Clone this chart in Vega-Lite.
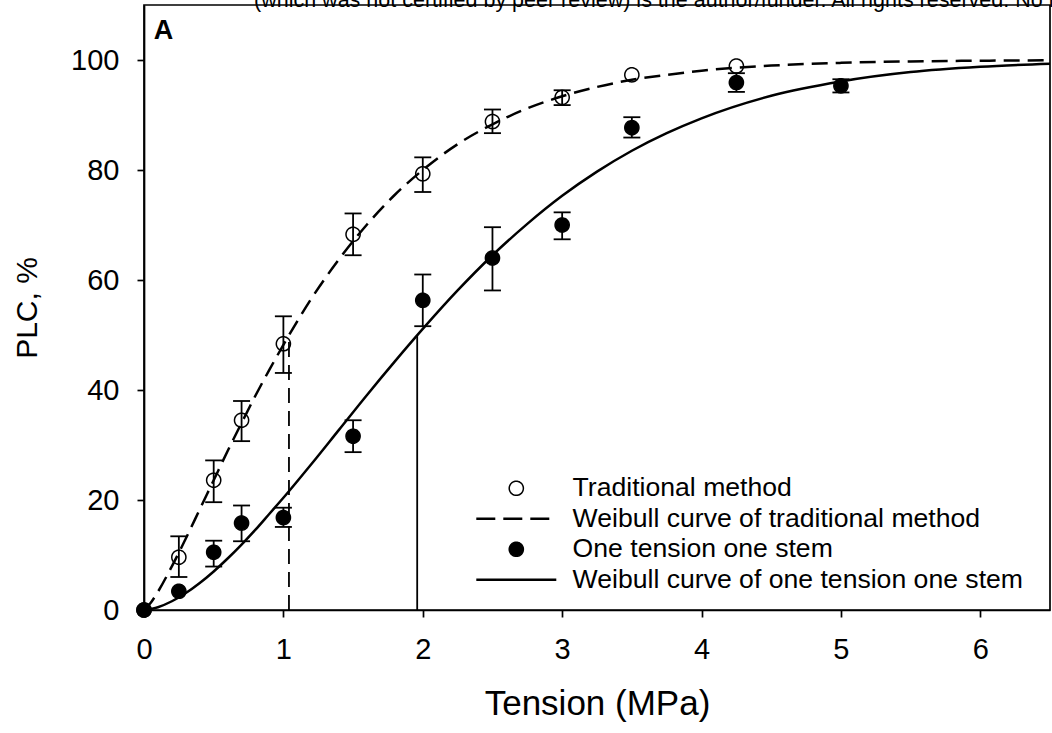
{
  "$schema": "https://vega.github.io/schema/vega-lite/v6.json",
  "width": 906,
  "height": 605,
  "autosize": "none",
  "padding": {"left": 144, "top": 5, "right": 2, "bottom": 123},
  "background": "white",
  "title": {
    "text": "(which was not certified by peer review) is the author/funder. All rights reserved. No reuse allowed without permission.",
    "anchor": "start",
    "frame": "group",
    "dx": 110,
    "offset": -6,
    "fontSize": 21.5,
    "font": "Liberation Sans",
    "fontWeight": "normal",
    "color": "black"
  },
  "config": {
    "view": {"stroke": "black", "strokeWidth": 1.7},
    "font": "Liberation Sans",
    "axis": {
      "grid": false,
      "domainColor": "black",
      "domainWidth": 1.7,
      "tickColor": "black",
      "tickWidth": 1.7,
      "tickSize": 7,
      "labelColor": "black",
      "titleColor": "black",
      "labelFont": "Liberation Sans",
      "titleFont": "Liberation Sans",
      "labelFontSize": 29,
      "labelFlush": false,
      "titleFontWeight": "normal"
    }
  },
  "datasets": {
    "points": [
      {"series": "Traditional method", "t": 0, "plc": 0},
      {"series": "Traditional method", "t": 0.25, "plc": 9.6, "lo": 6.0, "hi": 13.4},
      {"series": "Traditional method", "t": 0.5, "plc": 23.6, "lo": 19.6, "hi": 27.2},
      {"series": "Traditional method", "t": 0.7, "plc": 34.5, "lo": 30.7, "hi": 38.0},
      {"series": "Traditional method", "t": 1.0, "plc": 48.4, "lo": 43.1, "hi": 53.4},
      {"series": "Traditional method", "t": 1.5, "plc": 68.3, "lo": 64.5, "hi": 72.1},
      {"series": "Traditional method", "t": 2.0, "plc": 79.3, "lo": 76.0, "hi": 82.3},
      {"series": "Traditional method", "t": 2.5, "plc": 88.8, "lo": 86.7, "hi": 91.0},
      {"series": "Traditional method", "t": 3.0, "plc": 93.2, "lo": 91.8, "hi": 94.5},
      {"series": "Traditional method", "t": 3.5, "plc": 97.3},
      {"series": "Traditional method", "t": 4.25, "plc": 98.9},
      {"series": "One tension one stem", "t": 0, "plc": 0},
      {"series": "One tension one stem", "t": 0.25, "plc": 3.4},
      {"series": "One tension one stem", "t": 0.5, "plc": 10.5, "lo": 7.9, "hi": 12.6},
      {"series": "One tension one stem", "t": 0.7, "plc": 15.8, "lo": 12.5, "hi": 19.0},
      {"series": "One tension one stem", "t": 1.0, "plc": 16.8, "lo": 15.1, "hi": 18.6},
      {"series": "One tension one stem", "t": 1.5, "plc": 31.6, "lo": 28.7, "hi": 34.5},
      {"series": "One tension one stem", "t": 2.0, "plc": 56.3, "lo": 51.6, "hi": 61.0},
      {"series": "One tension one stem", "t": 2.5, "plc": 64.0, "lo": 58.1, "hi": 69.6},
      {"series": "One tension one stem", "t": 3.0, "plc": 70.0, "lo": 67.4, "hi": 72.3},
      {"series": "One tension one stem", "t": 3.5, "plc": 87.7, "lo": 85.9, "hi": 89.6},
      {"series": "One tension one stem", "t": 4.25, "plc": 95.9, "lo": 94.2, "hi": 97.6},
      {"series": "One tension one stem", "t": 5.0, "plc": 95.3, "lo": 94.1, "hi": 96.5}
    ],
    "curveTrad": [
      {"t": 0, "plc": 0}, {"t": 0.05, "plc": 1.37}, {"t": 0.1, "plc": 3.32}, {"t": 0.2, "plc": 7.94},
      {"t": 0.3, "plc": 13.0}, {"t": 0.4, "plc": 18.3}, {"t": 0.5, "plc": 23.6}, {"t": 0.6, "plc": 28.9},
      {"t": 0.7, "plc": 34.0}, {"t": 0.8, "plc": 39.0}, {"t": 0.9, "plc": 43.7}, {"t": 1.0, "plc": 48.2},
      {"t": 1.2, "plc": 56.6}, {"t": 1.4, "plc": 63.8}, {"t": 1.6, "plc": 70.1}, {"t": 1.8, "plc": 75.5},
      {"t": 2.0, "plc": 80.0}, {"t": 2.25, "plc": 84.7}, {"t": 2.5, "plc": 88.3}, {"t": 2.75, "plc": 91.2},
      {"t": 3.0, "plc": 93.4}, {"t": 3.25, "plc": 95.1}, {"t": 3.5, "plc": 96.4}, {"t": 3.75, "plc": 97.3},
      {"t": 4.0, "plc": 98.05}, {"t": 4.5, "plc": 98.98}, {"t": 5.0, "plc": 99.48}, {"t": 5.5, "plc": 99.74},
      {"t": 6.0, "plc": 99.87}, {"t": 6.5, "plc": 99.94}
    ],
    "curveOne": [
      {"t": 0, "plc": 0}, {"t": 0.1, "plc": 0.51}, {"t": 0.2, "plc": 1.59}, {"t": 0.3, "plc": 3.08},
      {"t": 0.4, "plc": 4.91}, {"t": 0.5, "plc": 7.01}, {"t": 0.6, "plc": 9.36}, {"t": 0.7, "plc": 11.9},
      {"t": 0.8, "plc": 14.6}, {"t": 0.9, "plc": 17.5}, {"t": 1.0, "plc": 20.4}, {"t": 1.2, "plc": 26.5},
      {"t": 1.4, "plc": 32.8}, {"t": 1.6, "plc": 39.1}, {"t": 1.8, "plc": 45.2}, {"t": 2.0, "plc": 51.1},
      {"t": 2.25, "plc": 58.1}, {"t": 2.5, "plc": 64.5}, {"t": 2.75, "plc": 70.2}, {"t": 3.0, "plc": 75.3},
      {"t": 3.25, "plc": 79.7}, {"t": 3.5, "plc": 83.5}, {"t": 3.75, "plc": 86.7}, {"t": 4.0, "plc": 89.4},
      {"t": 4.5, "plc": 93.5}, {"t": 5.0, "plc": 96.1}, {"t": 5.5, "plc": 97.8}, {"t": 6.0, "plc": 98.76},
      {"t": 6.5, "plc": 99.33}
    ],
    "p50": [
      {"method": "traditional", "t": 1.04, "lo": 0, "hi": 50},
      {"method": "one", "t": 1.96, "lo": 0, "hi": 50}
    ]
  },
  "layer": [
    {
      "data": {"name": "curveTrad"},
      "mark": {"type": "line", "color": "black", "strokeWidth": 2.5, "strokeDash": [16, 8], "interpolate": "monotone", "clip": true},
      "encoding": {
        "x": {"field": "t", "type": "quantitative", "scale": {"domain": [0, 6.5], "nice": false, "zero": false},
              "axis": {"values": [0, 1, 2, 3, 4, 5, 6], "format": "d", "title": "Tension (MPa)", "titleFontSize": 35, "labelPadding": 18, "titlePadding": 22}},
        "y": {"field": "plc", "type": "quantitative", "scale": {"domain": [0, 110], "nice": false},
              "axis": {"values": [0, 20, 40, 60, 80, 100], "format": "d", "title": "PLC, %", "titleFontSize": 30, "labelPadding": 18, "titlePadding": 28}}
      }
    },
    {
      "data": {"name": "curveOne"},
      "mark": {"type": "line", "color": "black", "strokeWidth": 2.5, "interpolate": "monotone", "clip": true},
      "encoding": {
        "x": {"field": "t", "type": "quantitative"},
        "y": {"field": "plc", "type": "quantitative"}
      }
    },
    {
      "data": {"name": "p50"},
      "transform": [{"filter": "datum.method === 'traditional'"}],
      "mark": {"type": "rule", "color": "black", "strokeWidth": 1.8, "strokeDash": [15, 8]},
      "encoding": {
        "x": {"field": "t", "type": "quantitative"},
        "y": {"field": "lo", "type": "quantitative"},
        "y2": {"field": "hi"}
      }
    },
    {
      "data": {"name": "p50"},
      "transform": [{"filter": "datum.method === 'one'"}],
      "mark": {"type": "rule", "color": "black", "strokeWidth": 1.8},
      "encoding": {
        "x": {"field": "t", "type": "quantitative"},
        "y": {"field": "lo", "type": "quantitative"},
        "y2": {"field": "hi"}
      }
    },
    {
      "data": {"name": "points"},
      "mark": {"type": "rule", "color": "black", "strokeWidth": 1.8, "opacity": 1},
      "encoding": {
        "x": {"field": "t", "type": "quantitative"},
        "y": {"field": "lo", "type": "quantitative"},
        "y2": {"field": "hi"}
      }
    },
    {
      "data": {"name": "points"},
      "mark": {"type": "tick", "orient": "horizontal", "color": "black", "size": 17, "thickness": 1.8, "opacity": 1},
      "encoding": {
        "x": {"field": "t", "type": "quantitative"},
        "y": {"field": "lo", "type": "quantitative"}
      }
    },
    {
      "data": {"name": "points"},
      "mark": {"type": "tick", "orient": "horizontal", "color": "black", "size": 17, "thickness": 1.8, "opacity": 1},
      "encoding": {
        "x": {"field": "t", "type": "quantitative"},
        "y": {"field": "hi", "type": "quantitative"}
      }
    },
    {
      "data": {"name": "points"},
      "mark": {"type": "point", "filled": true, "stroke": "black", "opacity": 1},
      "encoding": {
        "x": {"field": "t", "type": "quantitative"},
        "y": {"field": "plc", "type": "quantitative"},
        "shape": {
          "field": "series", "type": "nominal",
          "scale": {"domain": ["Traditional method", "Weibull curve of traditional method", "One tension one stem", "Weibull curve of one tension one stem"],
                    "range": ["circle", "M-5,0H5", "circle", "M-5,0H5"]},
          "legend": {"orient": "none", "legendX": 359, "legendY": 470, "title": null, "padding": 0,
                     "labelFontSize": 26.6, "labelFont": "Liberation Sans", "labelColor": "black", "labelOffset": 43,
                     "labelLimit": 0, "rowPadding": 3.5, "symbolStrokeColor": "black"}
        },
        "fill": {
          "field": "series", "type": "nominal",
          "scale": {"domain": ["Traditional method", "Weibull curve of traditional method", "One tension one stem", "Weibull curve of one tension one stem"],
                    "range": ["transparent", "transparent", "black", "transparent"]}
        },
        "size": {
          "field": "series", "type": "nominal",
          "scale": {"type": "ordinal", "domain": ["Traditional method", "Weibull curve of traditional method", "One tension one stem", "Weibull curve of one tension one stem"],
                    "range": [200, 256, 200, 256]}
        },
        "strokeWidth": {
          "field": "series", "type": "nominal",
          "scale": {"type": "ordinal", "domain": ["Traditional method", "Weibull curve of traditional method", "One tension one stem", "Weibull curve of one tension one stem"],
                    "range": [1.5, 2.5, 1.5, 2.5]}
        },
        "strokeDash": {
          "field": "series", "type": "nominal",
          "scale": {"domain": ["Traditional method", "Weibull curve of traditional method", "One tension one stem", "Weibull curve of one tension one stem"],
                    "range": [[1, 0], [19, 8], [1, 0], [1, 0]]}
        }
      }
    },
    {
      "data": {"values": [{}]},
      "mark": {"type": "text", "text": "A", "fontSize": 27, "fontWeight": "bold", "align": "left", "baseline": "alphabetic", "color": "black", "font": "Liberation Sans"},
      "encoding": {
        "x": {"datum": 0.07, "type": "quantitative"},
        "y": {"datum": 103.8, "type": "quantitative"}
      }
    }
  ]
}
